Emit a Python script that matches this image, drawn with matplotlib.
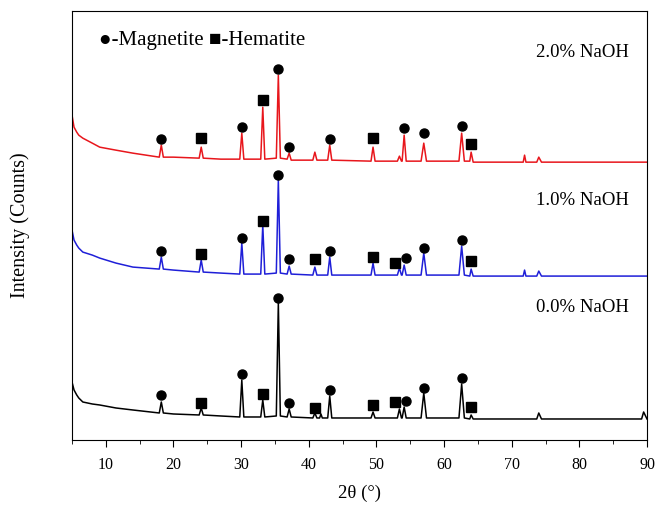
import numpy as np
import matplotlib
matplotlib.use("Agg")
import matplotlib.pyplot as plt
from matplotlib.ticker import MultipleLocator

plt.rcParams['font.family'] = ['Liberation Serif', 'DejaVu Serif']

# ---- data (2theta in degrees, intensity in plot units) ----
# 0.0% NaOH (black)
tt_0 = [5.0, 5.3, 5.7, 6.0, 6.6, 8.0, 9.1, 11.5, 14.0, 17.9, 18.2, 18.5, 20.0, 23.8, 24.1, 24.4,
        27.0, 29.8, 30.1, 30.4, 32.9, 33.2, 33.5, 35.2, 35.5, 35.8, 36.8, 37.1, 37.4, 40.6, 40.9,
        41.2, 41.6, 41.8, 42.0, 42.8, 43.1, 43.4, 49.2, 49.5, 49.8, 53.1, 53.4, 53.7, 53.8, 54.1,
        54.4, 56.6, 57.0, 57.4, 62.2, 62.6, 63.0, 63.8, 64.0, 64.3, 73.7, 74.0, 74.4, 89.2, 89.5, 90.0]
I_0 = [58, 50, 45, 42, 38, 36, 35, 32, 30, 27, 38, 27, 26, 25, 32, 25,
       24, 23, 60, 23, 23, 40, 23, 24, 137, 24, 23, 31, 23, 22, 27,
       22, 22, 26, 22, 22, 44, 22, 22, 28, 22, 22, 31, 22, 22, 33,
       22, 22, 47, 22, 22, 56, 22, 21, 25, 21, 21, 27, 21, 21, 28, 21]

# 1.0% NaOH (blue)
tt_1 = [5.0, 5.3, 5.7, 6.0, 6.6, 8.0, 9.1, 11.5, 14.0, 17.9, 18.2, 18.5, 20.0, 23.8, 24.1, 24.4,
        27.0, 29.8, 30.1, 30.4, 32.9, 33.2, 33.5, 35.2, 35.5, 35.8, 36.8, 37.1, 37.4, 40.6, 40.9,
        41.2, 42.8, 43.1, 43.4, 49.2, 49.5, 49.8, 53.1, 53.4, 53.7, 53.8, 54.1, 54.4, 56.6, 57.0,
        57.4, 62.2, 62.6, 63.0, 63.8, 64.0, 64.3, 71.7, 71.9, 72.1, 73.7, 74.0, 74.4, 90.0]
I_1 = [210, 200, 195, 192, 188, 185, 182, 177, 173, 171, 183, 171, 170, 168, 180, 168,
       167, 166, 197, 166, 166, 215, 166, 167, 260, 167, 166, 174, 166, 165, 173,
       165, 165, 183, 165, 165, 177, 165, 165, 172, 165, 165, 175, 165, 165, 187,
       165, 165, 194, 165, 164, 171, 164, 164, 170, 164, 164, 169, 164, 164]

# 2.0% NaOH (red)
tt_2 = [5.0, 5.3, 5.7, 6.0, 6.6, 8.0, 9.1, 11.5, 14.0, 17.9, 18.2, 18.5, 20.0, 23.8, 24.1, 24.4,
        27.0, 29.8, 30.1, 30.4, 32.9, 33.2, 33.5, 35.2, 35.5, 35.8, 36.8, 37.1, 37.4, 40.6, 40.9,
        41.2, 42.8, 43.1, 43.4, 49.2, 49.5, 49.8, 53.1, 53.4, 53.7, 53.8, 54.1, 54.4, 56.6, 57.0,
        57.4, 62.2, 62.6, 63.0, 63.8, 64.0, 64.3, 71.7, 71.9, 72.1, 73.7, 74.0, 74.4, 90.0]
I_2 = [325, 313, 308, 305, 302, 297, 293, 290, 287, 283, 295, 283, 283, 282, 293, 282,
       281, 281, 307, 281, 281, 333, 281, 282, 365, 282, 281, 287, 280, 280, 288,
       280, 280, 295, 280, 279, 293, 279, 279, 284, 279, 279, 305, 279, 279, 297,
       279, 279, 307, 279, 279, 288, 278, 278, 285, 278, 278, 283, 278, 278]

# phase markers (position, height) for each pattern
mag_0 = ([18.2, 30.1, 35.5, 37.1, 43.1, 54.3, 57.0, 62.6], [45, 66, 142, 37, 50, 39, 52, 62])
hem_0 = ([24.1, 33.2, 40.9, 49.5, 52.8, 64.0], [37, 46, 32, 35, 38, 33])
mag_1 = ([18.2, 30.1, 35.5, 37.1, 43.1, 54.3, 57.0, 62.6], [189, 202, 265, 181, 189, 182, 192, 200])
hem_1 = ([24.1, 33.2, 40.9, 49.5, 52.8, 64.0], [186, 219, 181, 183, 177, 179])
mag_2 = ([18.2, 30.1, 35.5, 37.1, 43.1, 54.1, 57.0, 62.6], [301, 313, 371, 293, 301, 312, 307, 314])
hem_2 = ([24.1, 33.2, 49.5, 64.0], [302, 340, 302, 296])

labels = ['0.0% NaOH', '1.0% NaOH', '2.0% NaOH']
label_y = [133, 240, 388]

fig = plt.figure(figsize=(6.57, 5.11), dpi=100)
ax = fig.add_axes([0.1096, 0.139, 0.8752, 0.839])

ax.plot(tt_0, I_0, c='black', lw=1.1)
ax.plot(tt_1, I_1, c='#1f1fd8', lw=1.1)
ax.plot(tt_2, I_2, c='#e8161c', lw=1.1)

for m, h in [(mag_0, hem_0), (mag_1, hem_1), (mag_2, hem_2)]:
    ax.plot(m[0], m[1], 'o', c='black', ms=6.5, ls='none')
    ax.plot(h[0], h[1], 's', c='black', ms=7.5, ls='none')

for lab, yy in zip(labels, label_y):
    ax.text(87.3, yy, lab, ha='right', va='center', fontsize=13.5)

ax.text(9.0, 400, '\u25cf-Magnetite \u25a0-Hematite', ha='left', va='center', fontsize=15,
        family=['Liberation Serif', 'DejaVu Sans'])

ax.set_xlim(5, 90)
ax.set_ylim(0, 429)
ax.xaxis.set_major_locator(MultipleLocator(10))
ax.xaxis.set_minor_locator(MultipleLocator(5))
ax.tick_params(axis='x', which='major', direction='out', length=5, labelsize=11.5, pad=7)
ax.tick_params(axis='x', which='minor', direction='out', length=3)
ax.set_yticks([])
ax.set_xlabel('2θ (°)', fontsize=13.5, labelpad=9)
ax.set_ylabel('Intensity (Counts)', fontsize=14.5, labelpad=30)

fig.savefig('out.png', dpi=100)
